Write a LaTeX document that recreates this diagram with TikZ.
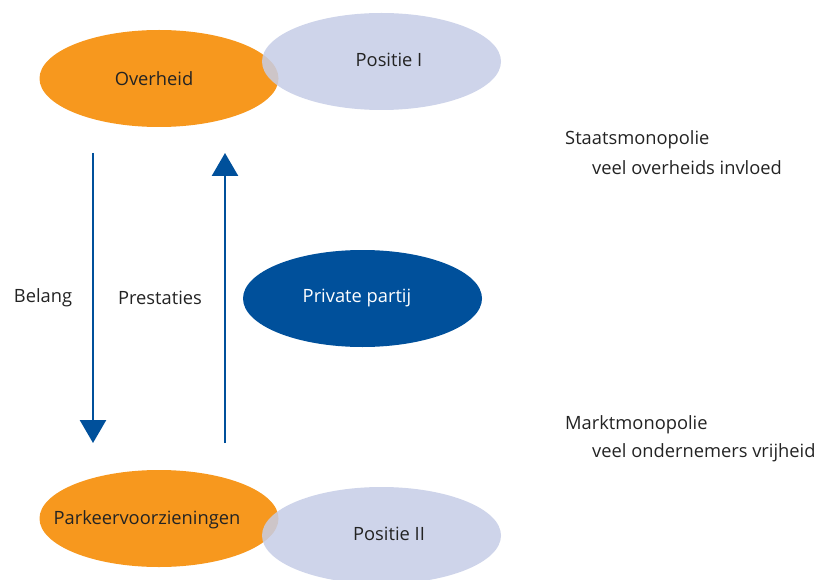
\documentclass[tikz,border=0pt]{standalone}
\usepackage{fontspec}
\setmainfont{Open Sans}
\usetikzlibrary{arrows.meta,shapes.geometric}
\definecolor{govorange}{RGB}{247,152,30}
\definecolor{posblue}{RGB}{198,205,230}
\definecolor{darkblue}{RGB}{0,80,155}
\definecolor{txt}{RGB}{35,35,35}
\tikzset{
  blob/.style={ellipse, minimum width=239pt, minimum height=97pt, inner sep=0pt, text=txt, font=\fontsize{18.3}{22}\selectfont},
  actor/.style={blob, fill=govorange},
  position/.style={blob, fill=posblue, fill opacity=0.85, text opacity=1},
  privy/.style={blob, fill=darkblue},
  flow/.style={draw=darkblue, line width=2.6pt, -{Triangle[length=23pt,width=26pt]}},
  lbl/.style={text=txt, font=\fontsize{18.3}{22}\selectfont, inner sep=0pt},
}
\begin{document}
\begin{tikzpicture}[x=1pt,y=-1pt]
\useasboundingbox (0,0) rectangle (824,580);
% government side
\node[actor] (gov) at (159,78.5) {};
\node[position] (pos1) at (381.5,61.5) {};
\node[lbl] (govtxt) at (154,79) {Overheid};
\node[lbl] (pos1txt) at (389,60) {Positie I};
% parking side
\node[actor] (park) at (159,518.5) {};
\node[position] (pos2) at (381.5,535.5) {};
\node[lbl] (parktxt) at (147,520) {Parkeervoorzieningen};
\node[lbl] (pos2txt) at (389,534) {Positie II};
% private party
\node[privy] (priv) at (362.5,298.5) {};
\node[lbl, text=white] (privtxt) at (357,298) {Private partij};
% flows
\coordinate (belangtop) at (93,153);
\coordinate (belangbot) at (93,443);
\coordinate (prestbot) at (225,443);
\coordinate (presttop) at (225,153);
\draw[flow] (belangtop) -- (belangbot);
\draw[flow] (prestbot) -- (presttop);
\node[lbl] (belang) at (43,298) {Belang};
\node[lbl] (prest) at (160,298) {Prestaties};
% market positions
\node[lbl, anchor=west] (staat) at (565,140) {Staatsmonopolie};
\node[lbl, anchor=west] (staat2) at (592,168) {veel overheids invloed};
\node[lbl, anchor=west] (markt) at (565,425) {Marktmonopolie};
\node[lbl, anchor=west] (markt2) at (592,453) {veel ondernemers vrijheid};
\end{tikzpicture}
\end{document}
